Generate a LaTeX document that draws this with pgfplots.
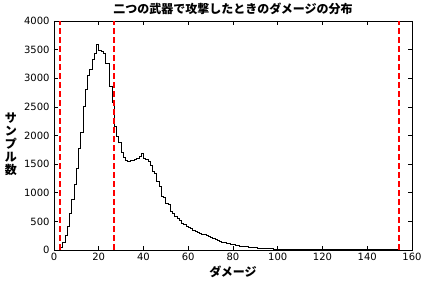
\documentclass[border=0pt]{standalone}
\usepackage{pgfplots}
\pgfplotsset{compat=1.18}
\usepackage{pgfplotstable}
\usepackage{fontspec}
\setmainfont{DejaVu Sans}
\newfontfamily\cjk{Noto Sans CJK JP}
\pgfplotstableread{
x y
3 0
3 50
4 130
5 250
6 420
7 640
8 880
9 1150
10 1430
11 1780
12 2050
13 2500
14 2800
15 3050
16 3150
17 3320
18 3430
19 3590
20 3480
21 3470
22 3440
23 3260
24 3250
25 2850
26 2580
27 2150
28 1980
29 1880
30 1700
31 1620
32 1560
33 1550
34 1560
35 1570
36 1580
37 1600
38 1630
39 1690
40 1600
41 1580
42 1540
43 1480
44 1370
45 1330
46 1190
47 1110
48 940
49 920
50 820
51 800
52 680
53 640
54 580
55 550
56 510
57 470
58 440
59 410
60 395
61 370
62 350
63 330
64 310
65 295
66 280
67 265
68 250
69 235
70 220
71 205
72 190
73 175
74 150
75 140
76 130
77 118
78 108
79 98
80 90
81 82
82 75
83 70
84 64
85 58
86 54
87 50
88 45
89 41
90 38
91 34
92 31
93 29
94 26
95 24
96 22
97 20
98 18
99 17
100 15
101 14
102 13
103 12
104 11
105 10
106 9
107 8
108 8
109 7
110 6
111 6
112 5
113 5
114 4
115 4
116 3
117 3
118 3
119 2
120 2
121 2
122 2
123 2
124 1
125 1
126 1
127 1
128 1
129 1
130 1
131 1
132 1
133 1
134 1
135 1
136 1
137 1
138 1
139 1
140 1
141 1
142 1
143 1
144 1
145 1
146 1
147 1
148 1
149 1
150 1
151 1
152 1
153 1
154 0
}\histdata
\begin{document}
\begin{tikzpicture}
\useasboundingbox (-54bp,-38bp) rectangle (378bp,250bp);
\begin{axis}[
  at={(0,0)}, anchor=south west,
  scale only axis, width=358bp, height=229bp,
  xmin=0, xmax=160, ymin=0, ymax=4000,
  xtick={0,20,...,160}, ytick={0,500,...,4000},
  tick align=inside, tick pos=both,
  major tick length=4bp,
  minor tick num=0,
  axis line style={line width=0.8bp},
  every tick/.style={black, line width=0.6bp},
  tick label style={font=\fontsize{10bp}{12bp}\selectfont},
  /pgf/number format/assume math mode=true,
  scaled y ticks=false,
  yticklabel style={/pgf/number format/1000 sep={}, xshift=-1bp},
  xticklabel style={/pgf/number format/1000 sep={}},
  title={\cjk\bfseries\fontsize{12bp}{14bp}\selectfont 二つの武器で攻撃したときのダメージの分布},
  title style={yshift=-3bp},
  xlabel={\cjk\bfseries\fontsize{12bp}{14bp}\selectfont ダメージ},
  xlabel style={yshift=2bp},
  clip=true,
]
\addplot[const plot mark left, black, line width=0.9bp, no marks] table[x=x,y=y] {\histdata};
\addplot[red, line width=1.6bp, dash pattern=on 6bp off 3bp, no marks] coordinates {(2.7,0) (2.7,4000)};
\addplot[red, line width=1.6bp, dash pattern=on 6bp off 3bp, no marks] coordinates {(26.8,0) (26.8,4000)};
\addplot[red, line width=1.6bp, dash pattern=on 6bp off 3bp, no marks] coordinates {(154.2,0) (154.2,4000)};
\end{axis}
\node[align=center, font=\cjk\bfseries\fontsize{12bp}{13bp}\selectfont, inner sep=0pt] at (-43bp,106bp) {サ\\ン\\プ\\ル\\数};
\end{tikzpicture}
\end{document}
